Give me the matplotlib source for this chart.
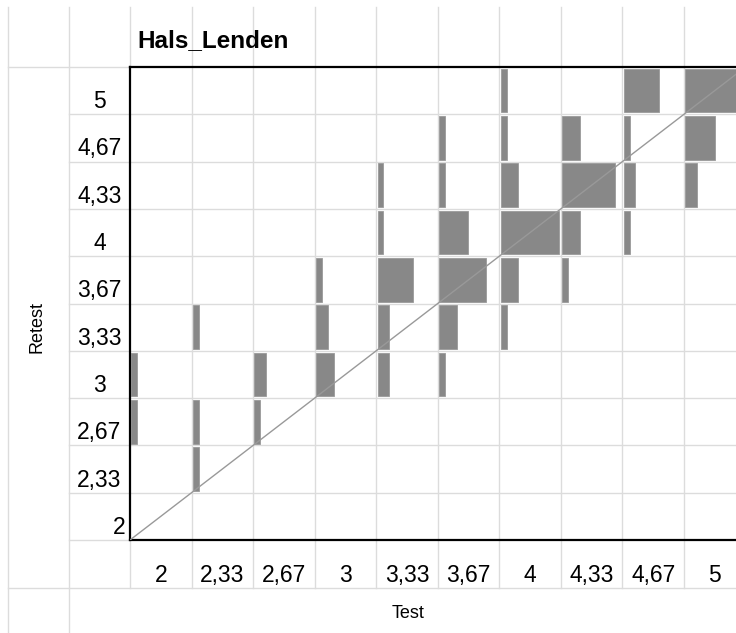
import matplotlib
matplotlib.use("Agg")
import matplotlib.pyplot as plt
import numpy as np
from matplotlib.lines import Line2D
from matplotlib.transforms import blended_transform_factory

plt.rcParams["font.family"] = ["Liberation Sans", "DejaVu Sans"]

title = "Hals_Lenden"
test_labels = ["2", "2,33", "2,67", "3", "3,33", "3,67", "4", "4,33", "4,67", "5"]
retest_labels = ["2", "2,33", "2,67", "3", "3,33", "3,67", "4", "4,33", "4,67", "5"]

# case counts per cell, one row per retest level (2 ... 5), columns = test level
counts_retest_2 = [0, 0, 0, 0, 0, 0, 0, 0, 0, 0]
counts_retest_233 = [0, 1, 0, 0, 0, 0, 0, 0, 0, 0]
counts_retest_267 = [1, 1, 1, 0, 0, 0, 0, 0, 0, 0]
counts_retest_3 = [1, 0, 2, 3, 2, 1, 0, 0, 0, 0]
counts_retest_333 = [0, 1, 0, 2, 2, 3, 1, 0, 0, 0]
counts_retest_367 = [0, 0, 0, 1, 6, 8, 3, 1, 0, 0]
counts_retest_4 = [0, 0, 0, 0, 1, 5, 10, 3, 1, 0]
counts_retest_433 = [0, 0, 0, 0, 1, 1, 3, 9, 2, 2]
counts_retest_467 = [0, 0, 0, 0, 0, 1, 1, 3, 1, 5]
counts_retest_5 = [0, 0, 0, 0, 0, 0, 1, 0, 6, 9]

counts = np.array([
    counts_retest_2, counts_retest_233, counts_retest_267, counts_retest_3,
    counts_retest_333, counts_retest_367, counts_retest_4, counts_retest_433,
    counts_retest_467, counts_retest_5,
])

# page layout in pixels (table-style frame around the plot)
W, H = 736, 633
LEFT, TOP, BOTTOM = 130, 67, 540
CELL_W = 61.55
GRID = "#dcdcdc"
BAR = "#888888"

fig = plt.figure(figsize=(W / 100, H / 100), dpi=100)
n = len(test_labels)
ax = fig.add_axes([LEFT / W, (H - BOTTOM) / H, n * CELL_W / W, (BOTTOM - TOP) / H])
ax.set_xlim(0, n)
ax.set_ylim(0, n)

# cell grid
for k in range(1, n):
    ax.axvline(k, color=GRID, lw=1, zorder=0)
    ax.axhline(k, color=GRID, lw=1, zorder=0)

# bar width grows with the cell count
unit = 0.095
pad_x, pad_y = 0.022, 0.04
rows, cols = np.nonzero(counts)
ax.barh(rows + 0.5, counts[rows, cols] * unit, left=cols + pad_x,
        height=1 - 2 * pad_y, color=BAR, edgecolor="#9a9a9a", linewidth=0.6, zorder=2)

# identity line test == retest
ax.plot([0, n], [0, n], color="#999999", lw=1, zorder=3)

for side in ["left", "top", "bottom"]:
    ax.spines[side].set_linewidth(1.6)
    ax.spines[side].set_color("black")
ax.spines["right"].set_visible(False)
ax.set_xticks([])
ax.set_yticks([])


def px_line(x0, y0, x1, y1):
    fig.add_artist(Line2D([x0 / W, x1 / W], [1 - y0 / H, 1 - y1 / H],
                          transform=fig.transFigure, color=GRID, lw=1, zorder=0))


# table frame outside the plot
px_line(8, 7, 8, H)
px_line(69, 7, 69, H)
for k in range(n + 1):
    x = LEFT + k * CELL_W
    px_line(x, 7, x, TOP)
    px_line(x, BOTTOM, x, 588)
px_line(8, TOP, W, TOP)
px_line(8, 588, W, 588)
row_h = (BOTTOM - TOP) / n
for k in range(1, n + 1):
    px_line(69, TOP + k * row_h, LEFT, TOP + k * row_h)

# tick labels
ytrans = blended_transform_factory(ax.transAxes, ax.transData)
for i, lab in enumerate(retest_labels):
    if i == 0:
        ax.text((125 - LEFT) / (n * CELL_W), i + 0.13, lab, transform=ytrans,
                ha="right", va="baseline", fontsize=16.5)
    else:
        ax.text((99.5 - LEFT) / (n * CELL_W), i + 0.13, lab, transform=ytrans,
                ha="center", va="baseline", fontsize=16.5)

xtrans = blended_transform_factory(ax.transData, ax.transAxes)
for j, lab in enumerate(test_labels):
    ax.text(j + 0.5, -(582 - BOTTOM) / (BOTTOM - TOP), lab, transform=xtrans,
            ha="center", va="baseline", fontsize=16.5)

fig.text(137 / W, 1 - 47 / H, title, ha="left", va="baseline",
         fontsize=17.5, fontweight="bold")
fig.text(408 / W, 1 - 618 / H, "Test", ha="center", va="baseline", fontsize=13)
fig.text(37 / W, 1 - 327 / H, "Retest", ha="center", va="center",
         rotation=90, fontsize=13)

fig.savefig("out.png", dpi=100)
